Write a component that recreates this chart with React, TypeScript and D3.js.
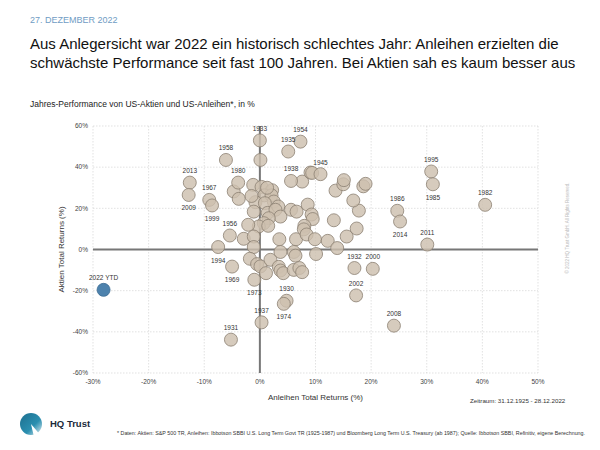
import React from "react";
import * as d3 from "d3";

// Labeled years: bond return (x, %), stock return (y, %)
const labelYears = ["1933","1954","1935","1958","2013","2009","1980","1967","1999","1956","1994","1969","1973","1937","1931","1938","1945","1995","1985","1982","1986","2014","2011","1932","2000","2002","2008","1930","1974"];
const labelBonds = [0.0, 7.3, 5.1, -6.1, -12.6, -12.8, -3.9, -9.1, -8.6, -5.4, -7.5, -5.0, -1.0, 0.3, -5.2, 5.6, 10.9, 30.8, 31.1, 40.5, 24.7, 25.2, 30.1, 17.0, 20.3, 17.3, 24.1, 4.8, 4.3];
const labelStocks = [53.0, 52.4, 47.6, 43.5, 32.5, 26.5, 32.5, 24.1, 21.4, 6.8, 1.2, -8.3, -14.7, -35.4, -43.8, 33.3, 36.6, 37.9, 31.7, 21.7, 18.8, 13.6, 2.4, -9.0, -9.4, -22.3, -37.0, -24.9, -26.4];
const labelsBelow = ["2009","1999","1994","1969","1973","1974","1985","2014"];

// Other (unlabeled) years
const otherBonds = [0.1, -4.7, -3.8, -1.2, 0.3, 2.2, 0.8, 2.1, 2.5, -0.8, 0.9, -1.1, 1.4, 3.3, 2.8, 3.7, 1.6, 0.7, -0.2, 1.5, -2.1, -2.9, -1.1, -1.1, 3.5, 6.5, 5.6, 6.6, 8.6, 9.3, 9.5, 8.0, 7.9, 8.4, 9.9, 12.2, 13.9, 15.6, 17.4, 13.3, 17.8, 16.8, 13.6, 15.0, 15.1, 18.6, 19.0, 7.6, 9.1, 9.4, -1.8, -0.5, 0.1, 1.1, 1.9, 3.7, 3.4, 3.7, 4.2, 6.1, 6.4, 6.1, 7.1, 7.6, 10.1, 1.3, -1.5];
const otherStocks = [43.5, 28.2, 24.6, 31.4, 30.4, 28.8, 26.3, 26.3, 23.3, 23.0, 22.5, 18.4, 17.8, 20.9, 19.3, 16.0, 15.2, 12.8, 11.2, 11.5, 12.0, 5.2, 6.3, 1.2, 5.0, 5.0, 19.3, 18.4, 21.8, 17.0, 14.8, 11.5, 9.8, 7.3, 5.0, 4.2, 0.7, 6.3, 10.2, 14.2, 18.9, 23.8, 28.6, 31.7, 33.7, 30.7, 31.9, 33.0, 37.4, 37.2, -4.5, -7.1, -8.2, -11.5, -5.0, -1.2, -8.4, -10.2, -11.5, -1.2, -3.0, -9.9, -9.0, -11.0, -2.2, 30.0, 26.0];

// Current year
const currentLabel = "2022 YTD";
const currentBond = -28.1;
const currentStock = -19.6;

const xTicks = [-30, -20, -10, 0, 10, 20, 30, 40, 50];
const yTicks = [-60, -40, -20, 0, 20, 40, 60];

const FONT = "'Liberation Sans', Arial, Helvetica, sans-serif";

export default function App() {
  const left = 93, right = 538, top = 126, bottom = 373;
  const x = d3.scaleLinear().domain([-30, 50]).range([left, right]);
  const y = d3.scaleLinear().domain([-60, 60]).range([bottom, top]);
  const r = 6.5;

  const others = otherBonds.map((b, i) => ({ b, s: otherStocks[i] }));
  const labeled = labelYears.map((yr, i) => ({ yr, b: labelBonds[i], s: labelStocks[i] }));

  return (
    <svg width={600} height={450} style={{ position: "absolute", left: 0, top: 0, fontFamily: FONT }}>
      <rect width={600} height={450} fill="#fff" />
      <text x={30} y={23} fontSize={9} fill="#6f9cc4">27. DEZEMBER 2022</text>
      <text x={30} y={49} fontSize={15} fill="#111">Aus Anlegersicht war 2022 ein historisch schlechtes Jahr: Anleihen erzielten die</text>
      <text x={30} y={68} fontSize={15} fill="#111">schwächste Performance seit fast 100 Jahren. Bei Aktien sah es kaum besser aus</text>
      <text x={30} y={107} fontSize={8.5} fill="#222">Jahres-Performance von US-Aktien und US-Anleihen*, in %</text>

      {/* grid */}
      {xTicks.map((t) => (
        <line key={"gx" + t} x1={x(t)} x2={x(t)} y1={top} y2={bottom} stroke="#cfcfcf" strokeWidth={0.6} strokeDasharray="1.5,1.5" />
      ))}
      {yTicks.map((t) => (
        <line key={"gy" + t} x1={left} x2={right} y1={y(t)} y2={y(t)} stroke="#cfcfcf" strokeWidth={0.6} strokeDasharray="1.5,1.5" />
      ))}
      <line x1={x(0)} x2={x(0)} y1={top} y2={bottom} stroke="#777" strokeWidth={2} />
      <line x1={left} x2={right} y1={y(0)} y2={y(0)} stroke="#777" strokeWidth={2} />

      {/* tick labels */}
      {yTicks.map((t) => (
        <text key={"ty" + t} x={left - 5} y={y(t) + 2.3} fontSize={6.5} fill="#444" textAnchor="end">{t}%</text>
      ))}
      {xTicks.map((t) => (
        <text key={"tx" + t} x={x(t)} y={bottom + 11} fontSize={6.5} fill="#444" textAnchor="middle">{t}%</text>
      ))}

      <text transform={`translate(64,${(top + bottom) / 2}) rotate(-90)`} fontSize={8} fill="#333" textAnchor="middle">Aktien Total Returns (%)</text>
      <text x={(left + right) / 2} y={400} fontSize={8} fill="#333" textAnchor="middle">Anleihen Total Returns (%)</text>
      <text x={470} y={403} fontSize={6.2} fill="#333">Zeitraum: 31.12.1925 - 28.12.2022</text>

      {/* points */}
      {others.map((d, i) => (
        <circle key={"o" + i} cx={x(d.b)} cy={y(d.s)} r={r} fill="#cdbfae" fillOpacity={0.82} stroke="#8c8072" strokeWidth={0.8} />
      ))}
      {labeled.map((d) => (
        <circle key={"l" + d.yr} cx={x(d.b)} cy={y(d.s)} r={r} fill="#cdbfae" fillOpacity={0.82} stroke="#8c8072" strokeWidth={0.8} />
      ))}
      <circle cx={x(currentBond)} cy={y(currentStock)} r={r} fill="#4d82ad" stroke="#3a6b93" strokeWidth={0.8} />

      {/* labels */}
      {labeled.map((d) => {
        const below = labelsBelow.includes(d.yr);
        return (
          <text key={"t" + d.yr} x={x(d.b)} y={y(d.s) + (below ? 15.5 : -9.5)} fontSize={6.5} fill="#333" textAnchor="middle">{d.yr}</text>
        );
      })}
      <text x={x(currentBond)} y={y(currentStock) - 9.5} fontSize={6.5} fill="#333" textAnchor="middle">{currentLabel}</text>

      {/* copyright */}
      <text transform="translate(569,228) rotate(-90)" fontSize={4.5} fill="#bbb" textAnchor="middle">© 2022 HQ Trust GmbH. All Rights Reserved.</text>

      {/* logo */}
      <g>
        <defs>
          <linearGradient id="lg" x1="0" y1="0" x2="1" y2="1">
            <stop offset="0" stopColor="#1d6f8f" />
            <stop offset="0.6" stopColor="#2b8fb0" />
            <stop offset="1" stopColor="#e6f0f4" />
          </linearGradient>
        </defs>
        <circle cx={31} cy={424} r={11} fill="url(#lg)" />
        <path d="M31,424 L42,437 L34,437 Z" fill="#fff" />
      </g>
      <text x={50} y={427} fontSize={9.5} fontWeight="bold" fill="#1a2a3a">HQ Trust</text>
      <text x={117} y={435} fontSize={5} fill="#333" textLength={468} lengthAdjust="spacingAndGlyphs">* Daten: Aktien: S&amp;P 500 TR, Anleihen: Ibbotson SBBI U.S. Long Term Govt TR (1925-1987) und Bloomberg Long Term U.S. Treasury (ab 1987); Quelle: Ibbotson SBBI, Refinitiv, eigene Berechnung.</text>
    </svg>
  );
}
